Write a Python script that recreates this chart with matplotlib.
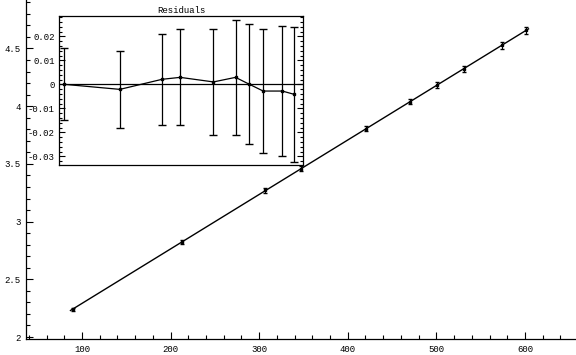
import numpy as np
import matplotlib.pyplot as plt
from matplotlib.ticker import MultipleLocator, FixedLocator

# data
x = [89.5, 213, 307, 347, 421, 470, 501, 531.5, 574, 601]
y = [2.24, 2.824, 3.27, 3.46, 3.805, 4.04, 4.186, 4.325, 4.526, 4.656]
resid = [0.0, -0.0021, 0.0021, 0.0029, 0.001, 0.0029, 0.0, -0.0028, -0.0028, -0.0042]
err = [0.015, 0.016, 0.019, 0.020, 0.022, 0.024, 0.025, 0.026, 0.027, 0.028]

xticks = [100, 200, 300, 400, 500, 600]
yticks = [2, 2.5, 3, 3.5, 4, 4.5]
yticklabels = ['2', '2.5', '3', '3.5', '4', '4.5']
rticks = [-0.03, -0.02, -0.01, 0, 0.01, 0.02]
rticklabels = ['-0.03', '-0.02', '-0.01', '0', '0.01', '0.02']

plt.rcParams['font.family'] = ['Liberation Mono', 'DejaVu Sans Mono']

fig = plt.figure(figsize=(5.76, 3.55), dpi=100)
W, H = 576.0, 355.0

# main plot, Mathematica style axes
ax = fig.add_axes([26 / W, 16 / H, 1 - 26 / W, 1 - 16 / H])
ax.set_xlim(36.8, 657.6)
ax.set_ylim(1.983, 4.92)
for s in ['top', 'right']:
    ax.spines[s].set_visible(False)
for s in ['left', 'bottom']:
    ax.spines[s].set_linewidth(0.9)

b, a = np.polyfit(x, y, 1)
lx = np.array([87, 604])
ax.plot(lx, a + b * lx, color='black', lw=1.0)
ax.errorbar(x, y, yerr=err, fmt='s', color='black', ms=2, capsize=1.5, lw=0.8,
            mfc='black')

ax.xaxis.set_major_locator(FixedLocator(xticks))
ax.xaxis.set_minor_locator(MultipleLocator(20))
ax.set_xticklabels([str(t) for t in xticks])
ax.yaxis.set_major_locator(FixedLocator(yticks))
ax.yaxis.set_minor_locator(MultipleLocator(0.1))
ax.set_yticklabels(yticklabels)
ax.tick_params(which='major', direction='in', length=5, width=0.8, labelsize=6.5, pad=4)
ax.tick_params(which='minor', direction='in', length=3, width=0.8)

# residuals inset
ins = fig.add_axes([59 / W, (H - 165) / H, 244 / W, 149 / H])
ins.set_xlim(77.7, 620)
ins.set_ylim(-0.0336, 0.02846)
ins.axhline(0, color='black', lw=0.9)
ins.plot(x, resid, color='black', lw=0.9)
ins.errorbar(x, resid, yerr=err, fmt='s', color='black', ms=2, capsize=3, lw=0.9)
ins.set_xticks([])
ins.yaxis.set_major_locator(FixedLocator(rticks))
ins.yaxis.set_minor_locator(MultipleLocator(0.002))
ins.set_yticklabels(rticklabels)
ins.tick_params(axis='y', which='major', direction='in', length=4, width=0.8,
                labelsize=6.5, right=True, pad=3)
ins.tick_params(axis='y', which='minor', direction='in', length=2, width=0.8, right=True)
for s in ins.spines.values():
    s.set_linewidth(0.9)
ins.set_title('Residuals', fontsize=6.5, pad=2)

fig.savefig('out.png', dpi=100)
